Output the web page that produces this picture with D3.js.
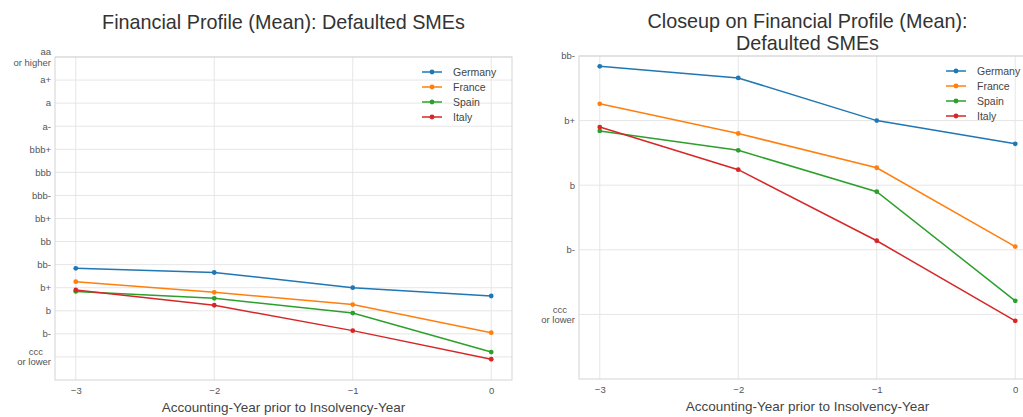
<!DOCTYPE html>
<html>
<head>
<meta charset="utf-8">
<script src="https://cdn.jsdelivr.net/npm/d3@7"></script>
<style>
  body { margin: 0; background: #fff; }
  text { font-family: "Liberation Sans", Arial, sans-serif; }
</style>
</head>
<body>
<svg id="chart" width="1023" height="417"></svg>
<script>
// accounting years before the insolvency year
const years = [-3, -2, -1, 0];

// mean rating score (0 = ccc or lower, 1 = b-, 2 = b, ...)
const germany = [3.84, 3.66, 3.0, 2.64];
const france = [3.26, 2.8, 2.27, 1.05];
const spain = [2.84, 2.54, 1.9, 0.21];
const italy = [2.9, 2.24, 1.14, -0.1];

const countries = ["Germany", "France", "Spain", "Italy"];
const colors = ["#1f77b4", "#ff7f0e", "#2ca02c", "#d62728"];

const ratingLabels = ["ccc   \nor lower", "b-", "b", "b+", "bb-", "bb", "bb+",
    "bbb-", "bbb", "bbb+", "a-", "a", "a+", "aa\nor higher"];
const closeupLabels = ratingLabels.slice(0, 5);

const series = [germany, france, spain, italy].map((values, i) => ({
    name: countries[i],
    color: colors[i],
    points: values.map((v, j) => ({ x: years[j], y: v }))
}));

const svg = d3.select('#chart');

function drawPanel(opts) {
    const g = svg.append('g').attr('transform', `translate(${opts.left},${opts.top})`);
    const w = opts.width, h = opts.height;

    const x = d3.scaleLinear().domain([-3.15, 0.15]).range([0, w]);
    const y = d3.scaleLinear().domain(opts.ylim).range([h, 0]);

    // grid
    g.append('g')
        .selectAll('line')
        .data(years)
        .enter()
        .append('line')
        .attr('x1', d => x(d)).attr('x2', d => x(d))
        .attr('y1', 0).attr('y2', h)
        .attr('stroke', '#e6e6e6');
    g.append('g')
        .selectAll('line')
        .data(opts.labels)
        .enter()
        .append('line')
        .attr('x1', 0).attr('x2', w)
        .attr('y1', (d, i) => y(i)).attr('y2', (d, i) => y(i))
        .attr('stroke', '#e6e6e6');

    g.append('rect')
        .attr('width', w).attr('height', h)
        .attr('fill', 'none')
        .attr('stroke', '#d4d4d4');

    // x axis
    const xAxis = d3.axisBottom(x)
        .tickValues(years)
        .tickSize(0)
        .tickPadding(7)
        .tickFormat(d => d < 0 ? '\u2212' + Math.abs(d) : d);
    g.append('g')
        .attr('transform', `translate(0,${h})`)
        .call(xAxis)
        .call(a => a.select('.domain').remove())
        .selectAll('text')
        .attr('fill', '#555')
        .style('font-size', '9.5px');

    // y axis with multi-line labels
    const yt = g.append('g')
        .selectAll('text')
        .data(opts.labels)
        .enter()
        .append('text')
        .attr('x', -4)
        .attr('y', (d, i) => y(i))
        .attr('text-anchor', 'end')
        .attr('fill', '#555')
        .style('font-size', '9.5px')
        .style('white-space', 'pre');
    yt.each(function (d) {
        const lines = d.split('\n');
        const t = d3.select(this);
        lines.forEach((line, k) => {
            t.append('tspan')
                .attr('x', -4)
                .attr('dy', k === 0 ? (0.35 - (lines.length - 1) * 0.55) + 'em' : '1.1em')
                .text(line);
        });
    });

    g.append('text')
        .attr('x', w / 2)
        .attr('y', h + 32)
        .attr('text-anchor', 'middle')
        .attr('fill', '#444')
        .style('font-size', '13.5px')
        .text('Accounting-Year prior to Insolvency-Year');

    // title
    const title = g.append('text')
        .attr('text-anchor', 'middle')
        .attr('fill', '#333')
        .style('font-size', '19.8px');
    opts.title.forEach((line, k) => {
        title.append('tspan')
            .attr('x', w / 2)
            .attr('y', opts.titleY + k * 22)
            .text(line);
    });

    // lines
    const line = d3.line().x(d => x(d.x)).y(d => y(d.y));
    const s = g.append('g').selectAll('g')
        .data(series)
        .enter()
        .append('g');
    s.append('path')
        .attr('d', d => line(d.points))
        .attr('fill', 'none')
        .attr('stroke', d => d.color)
        .attr('stroke-width', 1.5);
    s.selectAll('circle')
        .data(d => d.points.map(p => ({ p, color: d.color })))
        .enter()
        .append('circle')
        .attr('cx', d => x(d.p.x))
        .attr('cy', d => y(d.p.y))
        .attr('r', 2.4)
        .attr('fill', d => d.color);

    // legend
    const lg = g.append('g').attr('transform', `translate(${w - 90},${15})`);
    const item = lg.selectAll('g')
        .data(series)
        .enter()
        .append('g')
        .attr('transform', (d, i) => `translate(0,${i * 15})`);
    item.append('line')
        .attr('x1', 0).attr('x2', 20)
        .attr('stroke', d => d.color)
        .attr('stroke-width', 1.5);
    item.append('circle')
        .attr('cx', 10).attr('r', 2.4)
        .attr('fill', d => d.color);
    item.append('text')
        .attr('x', 31)
        .attr('dy', '0.35em')
        .attr('fill', '#444')
        .style('font-size', '10.5px')
        .text(d => d.name);
}

drawPanel({
    left: 55, top: 57, width: 457, height: 323,
    ylim: [-1, 13], labels: ratingLabels,
    title: ['Financial Profile (Mean): Defaulted SMEs'], titleY: -28
});

drawPanel({
    left: 579, top: 56, width: 457, height: 323,
    ylim: [-1, 4], labels: closeupLabels,
    title: ['Closeup on Financial Profile (Mean):', 'Defaulted SMEs'], titleY: -28
});
</script>
</body>
</html>
